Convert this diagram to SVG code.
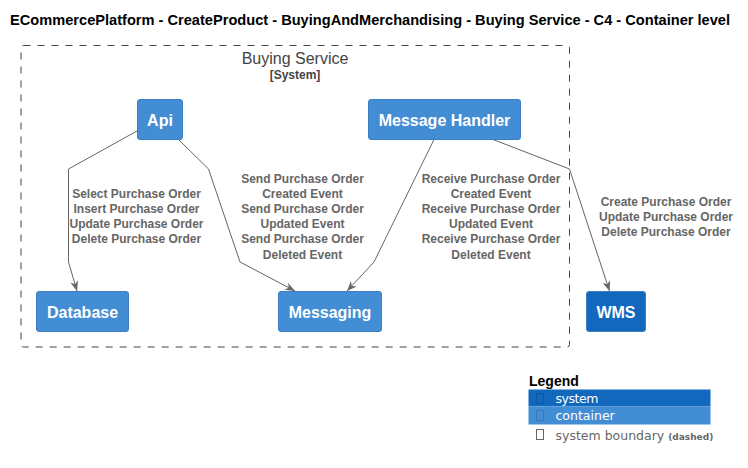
<svg xmlns="http://www.w3.org/2000/svg" width="748" height="468" viewBox="0 0 748 468">
<style>
.title{font-family:"Liberation Sans",Arial,sans-serif;font-weight:bold;font-size:14px;fill:#000}
.bt{font-family:"Liberation Sans",Arial,sans-serif;font-size:16px;fill:#444;text-anchor:middle}
.bs{font-family:"Liberation Sans",Arial,sans-serif;font-size:12px;font-weight:bold;fill:#444;text-anchor:middle}
.cont{fill:#438DD5;stroke:#3C7FC0;stroke-width:1}
.sys{fill:#1168BD;stroke:#3C7FC0;stroke-width:1}
.nt{font-family:"Liberation Sans",Arial,sans-serif;font-size:16px;font-weight:bold;fill:#FFF;text-anchor:middle}
.edge{fill:none;stroke:#666;stroke-width:1}
.el{font-family:"Liberation Sans",Arial,sans-serif;font-size:12px;font-weight:bold;fill:#666;text-anchor:middle}
.lg{font-family:"DejaVu Sans",sans-serif;font-size:12.5px}
</style>
<defs>
<marker id="arr" markerWidth="10" markerHeight="8" refX="10" refY="4" orient="auto" markerUnits="userSpaceOnUse">
<path d="M0,0 L10,4 L0,8 L3,4 Z" fill="#666"/>
</marker>
</defs>
<text class="title" x="10" y="25" textLength="720" lengthAdjust="spacingAndGlyphs">ECommercePlatform - CreateProduct - BuyingAndMerchandising - Buying Service - C4 - Container level</text>
<g id="boundary">
<rect x="21" y="45.5" width="548.5" height="301.5" rx="2.5" fill="none" stroke="#444" stroke-width="1" stroke-dasharray="7,7"/>
<text class="bt" x="295" y="64">Buying Service</text>
<text class="bs" x="295" y="79">[System]</text>
</g>
<g id="connectors">
<polyline class="edge" points="137,131 68.5,169 68.5,262 77,291" marker-end="url(#arr)"/>
<polyline class="edge" points="178.5,139.5 208.5,169 240,262 295,291" marker-end="url(#arr)"/>
<polyline class="edge" points="434,139.5 374,262 347,291" marker-end="url(#arr)"/>
<polyline class="edge" points="493,139.5 569.5,169 609.5,291" marker-end="url(#arr)"/>
<text class="el" x="136.5" y="197.5">Select Purchase Order</text>
<text class="el" x="136.5" y="212.5">Insert Purchase Order</text>
<text class="el" x="136.5" y="227.5">Update Purchase Order</text>
<text class="el" x="136.5" y="242.5">Delete Purchase Order</text>
<text class="el" x="302.5" y="182.5">Send Purchase Order</text>
<text class="el" x="302.5" y="197.5">Created Event</text>
<text class="el" x="302.5" y="212.5">Send Purchase Order</text>
<text class="el" x="302.5" y="227.5">Updated Event</text>
<text class="el" x="302.5" y="242.5">Send Purchase Order</text>
<text class="el" x="302.5" y="258.5">Deleted Event</text>
<text class="el" x="491" y="182.5">Receive Purchase Order</text>
<text class="el" x="491" y="197.5">Created Event</text>
<text class="el" x="491" y="212.5">Receive Purchase Order</text>
<text class="el" x="491" y="227.5">Updated Event</text>
<text class="el" x="491" y="242.5">Receive Purchase Order</text>
<text class="el" x="491" y="258.5">Deleted Event</text>
<text class="el" x="666" y="206">Create Purchase Order</text>
<text class="el" x="666" y="221">Update Purchase Order</text>
<text class="el" x="666" y="236">Delete Purchase Order</text>
</g>
<g id="api">
<rect class="cont" x="137.5" y="99.5" width="45" height="40" rx="2.5"/>
<text class="nt" x="160" y="125.5">Api</text>
</g>
<g id="message-handler">
<rect class="cont" x="368.5" y="99.5" width="152" height="40" rx="2.5"/>
<text class="nt" x="444.5" y="125.5">Message Handler</text>
</g>
<g id="database">
<rect class="cont" x="36.5" y="291.5" width="92" height="40" rx="2.5"/>
<text class="nt" x="82.5" y="317.5">Database</text>
</g>
<g id="messaging">
<rect class="cont" x="278.5" y="291.5" width="103" height="40" rx="2.5"/>
<text class="nt" x="330" y="317.5">Messaging</text>
</g>
<g id="wms">
<rect class="sys" x="586.5" y="291.5" width="59" height="40" rx="2.5"/>
<text class="nt" x="616" y="317.5">WMS</text>
</g>
<g id="legend">
<text class="title" x="529" y="386">Legend</text>
<rect x="528.5" y="389.5" width="182" height="17" fill="#1168BD"/>
<rect x="528.5" y="406.5" width="182" height="18" fill="#438DD5"/>
<rect x="536.5" y="393.5" width="7" height="10" fill="none" stroke="#000" stroke-opacity="0.15"/>
<rect x="536.5" y="410.5" width="7" height="10" fill="none" stroke="#000" stroke-opacity="0.15"/>
<rect x="536.5" y="429.5" width="7" height="10" fill="none" stroke="#666"/>
<text class="lg" x="555.5" y="403" fill="#FFF" textLength="43">system</text>
<text class="lg" x="555.5" y="420" fill="#FFF">container</text>
<text class="lg" x="555.5" y="439.5" fill="#666">system boundary <tspan font-size="9" font-weight="bold">(dashed)</tspan></text>
</g>
</svg>
